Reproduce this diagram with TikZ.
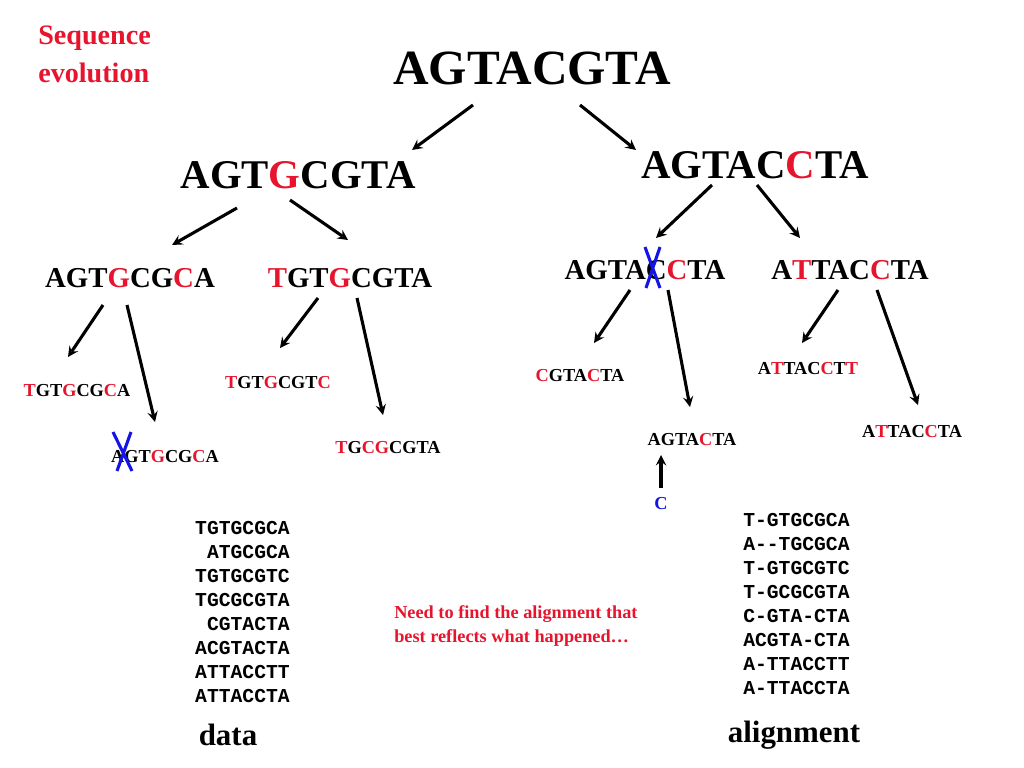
\documentclass[tikz,border=0pt]{standalone}
\usepackage{fontspec}
\setmainfont{Liberation Serif}
\setmonofont{Liberation Mono}
\usetikzlibrary{calc}
\definecolor{mutred}{RGB}{230,20,45}
\definecolor{xblue}{RGB}{20,20,230}
\newcommand{\mut}[1]{\textcolor{mutred}{#1}}
\tikzset{
  seq/.style={inner sep=0pt, font=\bfseries},
  arr/.style={->, >=stealth, line width=2.2pt},
  cross/.style={xblue, line width=2.2pt},
  aln/.style={inner sep=0pt, font=\ttfamily\bfseries\fontsize{14}{16}\selectfont},
}

\begin{document}
\begin{tikzpicture}[x=0.025cm, y=-0.025cm]
  \useasboundingbox (0,0) rectangle (1024,768);
  % tree of sequences
  \node[seq, font=\bfseries\fontsize{35}{40}\selectfont] (root) at (532,68) {AGTACGTA};
  \node[seq, font=\bfseries\fontsize{29}{33}\selectfont] (L) at (298,175) {AGT\mut{G}CGTA};
  \node[seq, font=\bfseries\fontsize{29}{33}\selectfont] (R) at (755,165) {AGTAC\mut{C}TA};
  \node[seq, font=\bfseries\fontsize{20.5}{24}\selectfont] (La) at (130,278) {AGT\mut{G}CG\mut{C}A};
  \node[seq, font=\bfseries\fontsize{20.5}{24}\selectfont] (Lb) at (350,278) {\mut{T}GT\mut{G}CGTA};
  \node[seq, font=\bfseries\fontsize{20.5}{24}\selectfont] (Ra) at (645,270) {AGTAC\mut{C}TA};
  \node[seq, font=\bfseries\fontsize{20.5}{24}\selectfont] (Rb) at (850,270) {A\mut{T}TAC\mut{C}TA};
  \node[seq, font=\bfseries\fontsize{13}{15}\selectfont] (La1) at (77,391) {\mut{T}GT\mut{G}CG\mut{C}A};
  \node[seq, font=\bfseries\fontsize{13}{15}\selectfont] (La2) at (165,457) {AGT\mut{G}CG\mut{C}A};
  \node[seq, font=\bfseries\fontsize{13}{15}\selectfont] (Lb1) at (278,383) {\mut{T}GT\mut{G}CGT\mut{C}};
  \node[seq, font=\bfseries\fontsize{13}{15}\selectfont] (Lb2) at (388,448) {\mut{T}G\mut{C}\mut{G}CGTA};
  \node[seq, font=\bfseries\fontsize{13}{15}\selectfont] (Ra1) at (580,376) {\mut{C}GTA\mut{C}TA};
  \node[seq, font=\bfseries\fontsize{13}{15}\selectfont] (Ra2) at (692,440) {AGTA\mut{C}TA};
  \node[seq, font=\bfseries\fontsize{13}{15}\selectfont] (Rb1) at (808,369) {A\mut{T}TAC\mut{C}T\mut{T}};
  \node[seq, font=\bfseries\fontsize{13}{15}\selectfont] (Rb2) at (912,432) {A\mut{T}TAC\mut{C}TA};
  \node[seq, xblue, font=\bfseries\fontsize{13}{15}\selectfont] (ins) at (661,504) {C};
  % arrows
  \draw[arr] ($(root)+(-59,37)$) -- ($(L)+(114,-25)$);
  \draw[arr] ($(root)+(48,37)$) -- ($(R)+(-119,-15)$);
  \draw[arr] ($(L)+(-61,33)$) -- ($(La)+(42,-33)$);
  \draw[arr] ($(L)+(-8,25)$) -- ($(Lb)+(-2,-38)$);
  \draw[arr] ($(R)+(-43,20)$) -- ($(Ra)+(11,-32)$);
  \draw[arr] ($(R)+(2,20)$) -- ($(Rb)+(-50,-32)$);
  \draw[arr] ($(La)+(-27,27)$) -- ($(La1)+(-9,-34)$);
  \draw[arr] ($(La)+(-3,27)$) -- ($(La2)+(-10,-35)$);
  \draw[arr] ($(Lb)+(-32,20)$) -- ($(Lb1)+(2,-35)$);
  \draw[arr] ($(Lb)+(7,20)$) -- ($(Lb2)+(-5,-33)$);
  \draw[arr] ($(Ra)+(-15,20)$) -- ($(Ra1)+(14,-33)$);
  \draw[arr] ($(Ra)+(23,20)$) -- ($(Ra2)+(-2,-33)$);
  \draw[arr] ($(Rb)+(-12,20)$) -- ($(Rb1)+(-6,-26)$);
  \draw[arr] ($(Rb)+(27,20)$) -- ($(Rb2)+(6,-27)$);
  \draw[arr] ($(ins)+(0,-16)$) -- ($(Ra2)+(-31,15)$);
  % deletions
  \draw[cross] (113,432) -- (132,471) (131,432) -- (117,471);
  \draw[cross] (645,247) -- (660,288) (660,247) -- (646,288);
  % labels
  \node[seq, mutred, align=left, anchor=north west, font=\bfseries\fontsize{20}{27}\selectfont] (title) at (38,26) {Sequence\\evolution};
  \node[seq, mutred, align=left, anchor=west, font=\bfseries\fontsize{13}{17}\selectfont] (note) at (394,626) {Need to find the alignment that\\best reflects what happened\dots};
  \node[seq, font=\bfseries\fontsize{22}{26}\selectfont] (data) at (228,735) {data};
  \node[seq, font=\bfseries\fontsize{22}{26}\selectfont] (alignment) at (794,735) {alignment};
  % data and alignment
  \foreach \s [count=\i] in {TGTGCGCA,ATGCGCA,TGTGCGTC,TGCGCGTA,CGTACTA,ACGTACTA,ATTACCTT,ATTACCTA}
    \node[aln, anchor=east] (d\i) at (290,504+24*\i) {\s};
  \foreach \s [count=\i] in {T-GTGCGCA,A--TGCGCA,T-GTGCGTC,T-GCGCGTA,C-GTA-CTA,ACGTA-CTA,A-TTACCTT,A-TTACCTA}
    \node[aln, anchor=west] (a\i) at (743,496+24*\i) {\s};
\end{tikzpicture}
\end{document}
